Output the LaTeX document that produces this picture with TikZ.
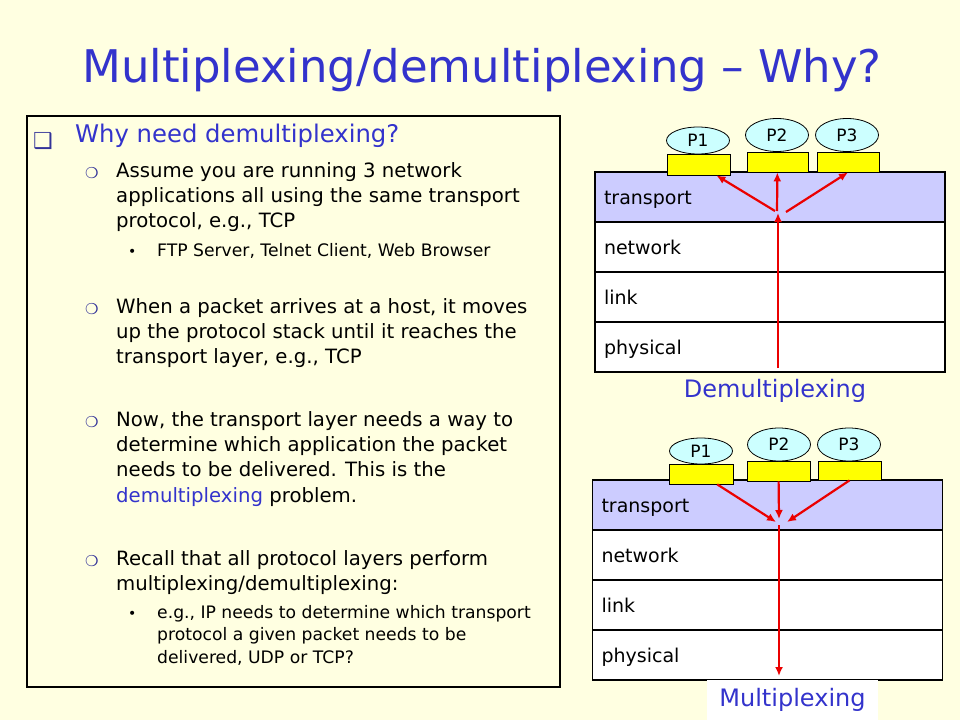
\documentclass[tikz,border=0pt]{standalone}
\usepackage{fontspec}
\setmainfont{DejaVu Sans}
\usetikzlibrary{shapes.geometric,arrows.meta,positioning}

\definecolor{slidebg}{RGB}{255,255,225}
\definecolor{titleblue}{RGB}{51,51,204}
\definecolor{bulletblue}{RGB}{51,51,153}
\definecolor{layerblue}{RGB}{204,204,255}
\definecolor{procblue}{RGB}{204,255,255}
\definecolor{sockyellow}{RGB}{255,255,0}
\definecolor{pktred}{RGB}{235,0,0}

\newcommand{\fsz}[2]{\fontsize{#1}{#2}\selectfont}

\begin{document}
\begin{tikzpicture}[x=1pt,y=-1pt,
  layer/.style={draw=black,line width=1.2pt,fill=white,minimum width=350pt,minimum height=50pt,
    text width=332pt,text height=15pt,text depth=1pt,align=left,inner xsep=9pt,inner ysep=0pt,outer sep=0pt,font=\fsz{19}{23}},
  sock/.style={draw=black,line width=0.8pt,fill=sockyellow,inner sep=0pt},
  proc/.style={ellipse,draw=black,line width=0.8pt,fill=procblue,minimum width=63pt,inner sep=0pt,font=\fsz{17}{20}},
  pkt/.style={pktred,line width=2.2pt,-{Latex[length=9pt,width=8pt]}},
  lvlone/.style={anchor=base west,inner sep=0pt,font=\fsz{24.3}{28},text=titleblue},
  lvltwo/.style={anchor=base west,inner sep=0pt,font=\fsz{19.7}{24}},
  lvlthree/.style={anchor=base west,inner sep=0pt,font=\fsz{17.2}{21}},
  bulletmark/.style={anchor=base west,inner sep=0pt,text=bulletblue}]
\useasboundingbox (0,0) rectangle (960,720);
\fill [slidebg] (0,0) rectangle (960,720);

% title
\node [anchor=base,inner sep=0pt,font=\fsz{45}{50},text=titleblue] (title) at (482,82) {Multiplexing/demultiplexing – Why?};

% left text box
\node [draw=black,line width=1.2pt,fill=slidebg,minimum width=533pt,minimum height=571pt,inner sep=0pt] (textbox) at (293.5,401.5) {};
\node [bulletmark,font=\fsz{22}{24}] (b0) at (33,148) {❑};
\node [lvlone] (head) at (75,142) {Why need demultiplexing?};

\foreach \yy in {177,313,426,565}
  \node [bulletmark,font=\fsz{15}{17}] (c\yy) at (85,\yy+1) {❍};
\foreach \yy in {256,618}
  \node [anchor=base west,inner sep=0pt,font=\fsz{14}{16}] (d\yy) at (128,\yy) {•};

\foreach \yy/\txt in {177/{Assume you are running 3 network},
    202/{applications all using the same transport},
    227/{protocol, e.g., TCP},
    313/{When a packet arrives at a host, it moves},
    338/{up the protocol stack until it reaches the},
    363/{transport layer, e.g., TCP},
    426/{Now, the transport layer needs a way to},
    451/{determine which application the packet},
    476/{needs to be delivered. This is the},
    502/{\textcolor{titleblue}{demultiplexing} problem.},
    565/{Recall that all protocol layers perform},
    590/{multiplexing/demultiplexing:}}
  \node [lvltwo] (t\yy) at (116,\yy) {\txt};

\foreach \yy/\txt in {256/{FTP Server, Telnet Client, Web Browser},
    618/{e.g., IP needs to determine which transport},
    640/{protocol a given packet needs to be},
    663/{delivered, UDP or TCP?}}
  \node [lvlthree] (u\yy) at (157,\yy) {\txt};

% demultiplexing stack
\node [layer,fill=layerblue] (tr1) at (770,197) {transport};
\node [layer,below=0pt of tr1] (nw1) {network};
\node [layer,below=0pt of nw1] (lk1) {link};
\node [layer,below=0pt of lk1] (ph1) {physical};
\node [sock,minimum width=63pt,minimum height=21pt] (s1) at (698.5,164.5) {};
\node [sock,minimum width=61pt,minimum height=20pt] (s2) at (777.5,162) {};
\node [sock,minimum width=62pt,minimum height=20pt] (s3) at (848,162) {};
\node [proc,minimum height=27pt] (p1) at (698,140.5) {P1};
\node [proc,minimum height=33pt] (p2) at (777,135) {P2};
\node [proc,minimum height=33pt] (p3) at (847,135) {P3};
\node [anchor=base,inner sep=0pt,font=\fsz{24}{28},text=titleblue] (demux) at (775,397) {Demultiplexing};

\coordinate (dmin) at (778,368);
\coordinate (dmhub) at (778,213);
\coordinate (dmL) at (775,211);
\coordinate (dmM) at (777,211);
\coordinate (dmR) at (786,212);
\draw [pkt] (dmin) -- (dmhub);
\draw [pkt] (dmL) -- (s1);
\draw [pkt] (dmM) -- (s2);
\draw [pkt] (dmR) -- (s3.south);

% multiplexing stack
\node [layer,fill=layerblue] (tr2) at (767.5,505) {transport};
\node [layer,below=0pt of tr2] (nw2) {network};
\node [layer,below=0pt of nw2] (lk2) {link};
\node [layer,below=0pt of lk2] (ph2) {physical};
\node [sock,minimum width=64pt,minimum height=20pt] (s4) at (701,474) {};
\node [sock,minimum width=63pt,minimum height=20pt] (s5) at (778.5,471) {};
\node [sock,minimum width=63pt,minimum height=19pt] (s6) at (849.5,470.5) {};
\node [proc,minimum height=26pt] (p4) at (701,451) {P1};
\node [proc,minimum height=33pt] (p5) at (779,444.5) {P2};
\node [proc,minimum height=33pt] (p6) at (849,444.5) {P3};
\node [fill=white,minimum width=171pt,minimum height=40pt,inner sep=0pt,font=\fsz{24}{28},text=titleblue] (mux) at (792.5,700) {Multiplexing};

\coordinate (mxL) at (776,522);
\coordinate (mxM) at (779,519);
\coordinate (mxR) at (787,522);
\coordinate (mxhub) at (779,525);
\coordinate (mxout) at (779,676);
\draw [pkt] (s4) -- (mxL);
\draw [pkt] (s5) -- (mxM);
\draw [pkt] (s6.south) -- (mxR);
\draw [pkt] (mxhub) -- (mxout);
\end{tikzpicture}
\end{document}
